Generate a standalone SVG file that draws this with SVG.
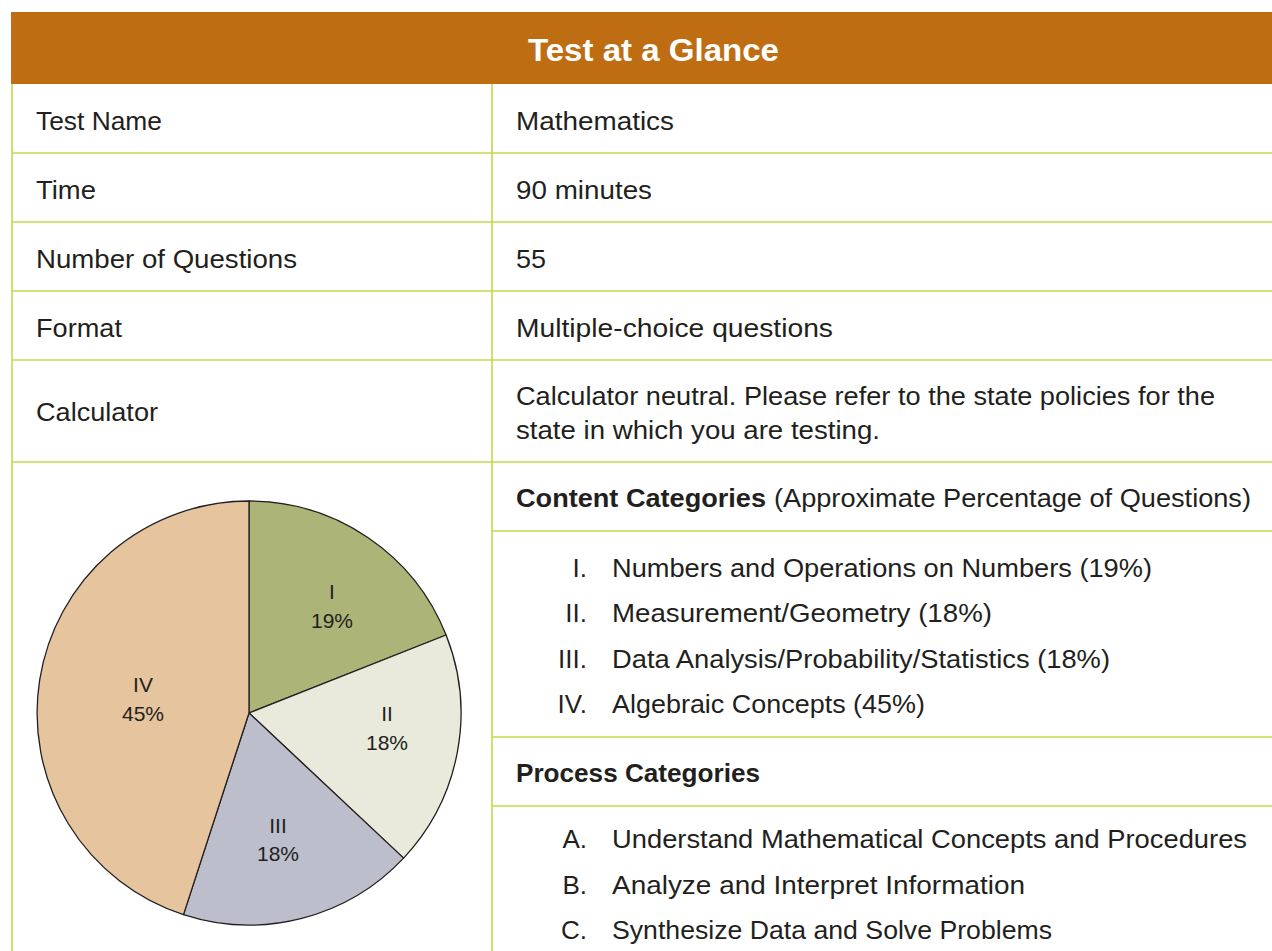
<svg xmlns="http://www.w3.org/2000/svg" width="1272" height="951" viewBox="0 0 1272 951">
<style>
.t{font-family:"Liberation Sans",Arial,sans-serif;font-size:26px;fill:#231f20}
.b{font-weight:bold}
.ttl{font-family:"Liberation Sans",Arial,sans-serif;font-size:32px;font-weight:bold;fill:#ffffff}
.pl{font-family:"Liberation Sans",Arial,sans-serif;font-size:21px;fill:#231f20;text-anchor:middle}
.ln{stroke:#c6d84c;stroke-width:1.6;fill:none}
.sl{stroke:#231f20;stroke-width:1.3;stroke-linejoin:round}
</style>
<rect width="1272" height="951" fill="#ffffff"/>
<g id="header">
<rect x="11" y="12" width="1261" height="72" fill="#bf6d13"/>
<text class="ttl" x="528" y="61" textLength="251" lengthAdjust="spacingAndGlyphs">Test at a Glance</text>
</g>
<g id="grid">
<line class="ln" x1="12" y1="84" x2="12" y2="951"/>
<line class="ln" x1="492" y1="84" x2="492" y2="951"/>
<line class="ln" x1="12" y1="153" x2="1272" y2="153"/>
<line class="ln" x1="12" y1="222" x2="1272" y2="222"/>
<line class="ln" x1="12" y1="291" x2="1272" y2="291"/>
<line class="ln" x1="12" y1="360" x2="1272" y2="360"/>
<line class="ln" x1="12" y1="462" x2="1272" y2="462"/>
<line class="ln" x1="492" y1="531" x2="1272" y2="531"/>
<line class="ln" x1="492" y1="737" x2="1272" y2="737"/>
<line class="ln" x1="492" y1="806" x2="1272" y2="806"/>
</g>
<g id="row-name">
<text class="t" x="36" y="130" textLength="126" lengthAdjust="spacingAndGlyphs">Test Name</text>
<text class="t" x="516" y="130" textLength="158" lengthAdjust="spacingAndGlyphs">Mathematics</text>
</g>
<g id="row-time">
<text class="t" x="36" y="199" textLength="60" lengthAdjust="spacingAndGlyphs">Time</text>
<text class="t" x="516" y="199" textLength="136" lengthAdjust="spacingAndGlyphs">90 minutes</text>
</g>
<g id="row-questions">
<text class="t" x="36" y="268" textLength="261" lengthAdjust="spacingAndGlyphs">Number of Questions</text>
<text class="t" x="516" y="268" textLength="30" lengthAdjust="spacingAndGlyphs">55</text>
</g>
<g id="row-format">
<text class="t" x="36" y="337" textLength="86" lengthAdjust="spacingAndGlyphs">Format</text>
<text class="t" x="516" y="337" textLength="317" lengthAdjust="spacingAndGlyphs">Multiple-choice questions</text>
</g>
<g id="row-calculator">
<text class="t" x="36" y="421" textLength="122" lengthAdjust="spacingAndGlyphs">Calculator</text>
<text class="t" x="516" y="405" textLength="699" lengthAdjust="spacingAndGlyphs">Calculator neutral. Please refer to the state policies for the</text>
<text class="t" x="516" y="439" textLength="364" lengthAdjust="spacingAndGlyphs">state in which you are testing.</text>
</g>
<g id="pie">
<path d="M249,713 L249,501 A212,212 0 0 1 446.1,635.0 Z" fill="#adb478" class="sl"/>
<path d="M249,713 L446.1,635.0 A212,212 0 0 1 403.6,858.1 Z" fill="#e9eadb" class="sl"/>
<path d="M249,713 L403.6,858.1 A212,212 0 0 1 183.5,914.6 Z" fill="#bcbecb" class="sl"/>
<path d="M249,713 L183.5,914.6 A212,212 0 0 1 249,501 Z" fill="#e5c49e" class="sl"/>
<text class="pl" x="332" y="599">I</text>
<text class="pl" x="332" y="628">19%</text>
<text class="pl" x="387" y="721">II</text>
<text class="pl" x="387" y="750">18%</text>
<text class="pl" x="278" y="833">III</text>
<text class="pl" x="278" y="861">18%</text>
<text class="pl" x="143" y="692">IV</text>
<text class="pl" x="143" y="721">45%</text>
</g>
<g id="content-categories">
<text class="t b" x="516" y="507" textLength="250" lengthAdjust="spacingAndGlyphs">Content Categories</text>
<text class="t" x="774" y="507" textLength="477" lengthAdjust="spacingAndGlyphs">(Approximate Percentage of Questions)</text>
<text class="t" x="587" y="577" text-anchor="end">I.</text>
<text class="t" x="612" y="577" textLength="540" lengthAdjust="spacingAndGlyphs">Numbers and Operations on Numbers (19%)</text>
<text class="t" x="587" y="622" text-anchor="end">II.</text>
<text class="t" x="612" y="622" textLength="380" lengthAdjust="spacingAndGlyphs">Measurement/Geometry (18%)</text>
<text class="t" x="587" y="668" text-anchor="end">III.</text>
<text class="t" x="612" y="668" textLength="498" lengthAdjust="spacingAndGlyphs">Data Analysis/Probability/Statistics (18%)</text>
<text class="t" x="587" y="713" text-anchor="end">IV.</text>
<text class="t" x="612" y="713" textLength="313" lengthAdjust="spacingAndGlyphs">Algebraic Concepts (45%)</text>
</g>
<g id="process-categories">
<text class="t b" x="516" y="782" textLength="244" lengthAdjust="spacingAndGlyphs">Process Categories</text>
<text class="t" x="587" y="848" text-anchor="end">A.</text>
<text class="t" x="612" y="848" textLength="635" lengthAdjust="spacingAndGlyphs">Understand Mathematical Concepts and Procedures</text>
<text class="t" x="587" y="894" text-anchor="end">B.</text>
<text class="t" x="612" y="894" textLength="413" lengthAdjust="spacingAndGlyphs">Analyze and Interpret Information</text>
<text class="t" x="587" y="939" text-anchor="end">C.</text>
<text class="t" x="612" y="939" textLength="440" lengthAdjust="spacingAndGlyphs">Synthesize Data and Solve Problems</text>
</g>
</svg>
